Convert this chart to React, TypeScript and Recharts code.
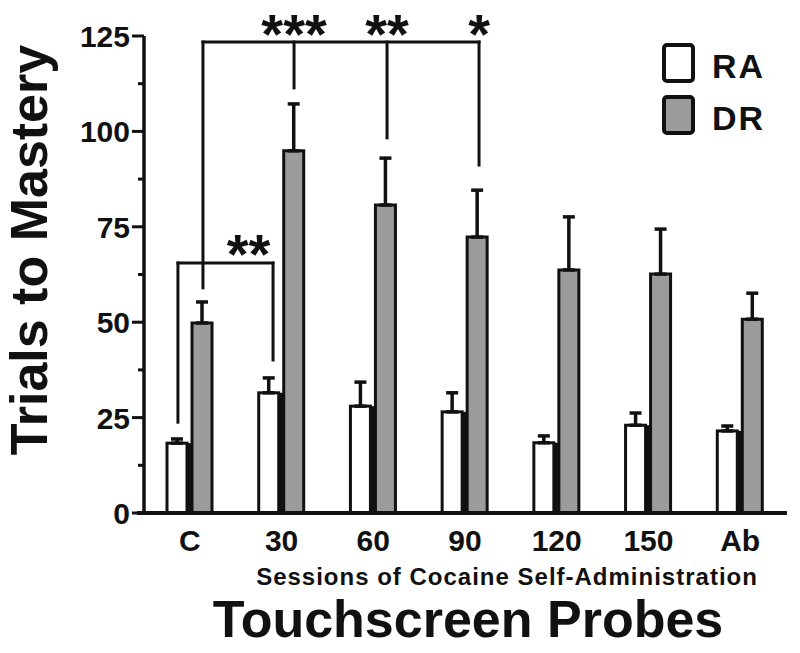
import { BarChart, Bar, XAxis, YAxis, ErrorBar, ReferenceLine, ReferenceDot, Legend } from 'recharts'

const categories = ['C', '30', '60', '90', '120', '150', 'Ab']
const raMean = [18.3, 31.5, 28, 26.5, 18.4, 23, 21.5]
const raSem = [1.1, 3.9, 6.3, 5, 1.8, 3.2, 1.3]
const drMean = [49.8, 94.9, 80.7, 72.3, 63.7, 62.6, 50.8]
const drSem = [5.5, 12.3, 12.3, 12.3, 13.9, 11.8, 6.8]
const yTicks = [0, 12.5, 25, 37.5, 50, 62.5, 75, 87.5, 100, 112.5, 125]
const legendOrder = ['RA', 'DR']

// significance brackets: [x1, y1, x2, y2], x in category index units, y in trials
const bracketLines: [number, number, number, number][] = [
  [0.143, 123.4, 3.153, 123.4],
  [0.143, 123.4, 0.143, 59.0],
  [1.136, 123.4, 1.136, 111.4],
  [2.15, 123.4, 2.15, 98.3],
  [3.153, 123.4, 3.153, 91.2],
  [-0.13, 65.5, 0.907, 65.5],
  [-0.13, 65.5, -0.13, 23.8],
  [0.907, 65.5, 0.907, 40.1],
]
const stars = [
  { x: 1.136, y: 120.6, text: '***' },
  { x: 2.15, y: 120.6, text: '**' },
  { x: 3.153, y: 120.6, text: '*' },
  { x: 0.64, y: 63, text: '**' },
]

const FONT = '"Liberation Sans", Arial, Helvetica, sans-serif'
const INK = '#111'
const GRAY = '#9b9b9b'
const BAR_GAP = 5
const fills: Record<string, string> = { RA: '#ffffff', DR: GRAY }

const data = categories.map((c, i) => ({
  name: c,
  idx: i,
  RA: raMean[i],
  raErr: [0, raSem[i]],
  DR: drMean[i],
  drErr: [0, drSem[i]],
}))

const RaShape = (props: any) => {
  const { x, y, width, height } = props
  return (
    <g>
      <rect x={x + width} y={y} width={BAR_GAP} height={height} fill={INK} />
      <rect x={x} y={y} width={width} height={height} fill="#fff" stroke={INK} strokeWidth={3} />
    </g>
  )
}

const YTick = ({ x, y, payload }: any) => {
  const major = payload.value % 25 === 0
  return (
    <g>
      <line x1={x - (major ? 12 : 6)} x2={x} y1={y} y2={y} stroke={INK} strokeWidth={3} />
      {major && (
        <text x={x - 14} y={y + 11} textAnchor="end" fontSize={30} fontWeight="bold" fill={INK} fontFamily={FONT}>
          {payload.value}
        </text>
      )}
    </g>
  )
}

const XTick = ({ x, y, payload }: any) => (
  <text x={x} y={y + 38} textAnchor="middle" fontSize={30} fontWeight="bold" fill={INK} fontFamily={FONT}>
    {payload.value}
  </text>
)

const LegendBox = ({ payload }: any) => {
  const items = [...(payload || [])].sort(
    (a: any, b: any) => legendOrder.indexOf(a.value) - legendOrder.indexOf(b.value)
  )
  return (
    <svg width={130} height={100}>
      {items.map((p: any, i: number) => (
        <g key={p.value} transform={`translate(0, ${i * 52})`}>
          <rect x={2} y={2} width={29} height={36} rx={3} fill={fills[p.value]} stroke={INK} strokeWidth={4} />
          <text x={50} y={35} fontSize={34} fontWeight="bold" letterSpacing={2} fill={INK} fontFamily={FONT}>
            {p.value}
          </text>
        </g>
      ))}
    </svg>
  )
}

export default function App() {
  return (
    <div style={{ position: 'absolute', left: 0, top: 0, background: '#fff' }}>
      <BarChart
        width={800}
        height={653}
        data={data}
        barSize={20}
        barGap={BAR_GAP}
        margin={{ top: 36, right: 14, bottom: 110, left: 64 }}
      >
        <XAxis
          dataKey="name"
          height={30}
          axisLine={false}
          tickLine={false}
          tickSize={0}
          tickMargin={0}
          tick={<XTick />}
          interval={0}
          label={() => (
            <g fontFamily={FONT} fontWeight="bold" fill={INK}>
              <text x={507} y={585} textAnchor="middle" fontSize={24} letterSpacing={1}>
                Sessions of Cocaine Self-Administration
              </text>
              <text x={468} y={637} textAnchor="middle" fontSize={52}>
                Touchscreen Probes
              </text>
            </g>
          )}
        />
        <XAxis xAxisId="n" dataKey="idx" type="number" domain={[-0.5, 6.5]} allowDataOverflow hide />
        <YAxis
          width={80}
          domain={[0, 125]}
          ticks={yTicks}
          interval={0}
          axisLine={{ stroke: INK, strokeWidth: 3.5 }}
          tickLine={false}
          tickSize={0}
          tickMargin={0}
          tick={<YTick />}
          label={() => (
            <text
              x={47}
              y={250}
              transform="rotate(-90, 47, 250)"
              textAnchor="middle"
              fontSize={52}
              fontWeight="bold"
              fill={INK}
              fontFamily={FONT}
            >
              Trials to Mastery
            </text>
          )}
        />
        <Legend
          layout="vertical"
          align="center"
          verticalAlign="middle"
          content={<LegendBox />}
          wrapperStyle={{ left: 662, top: 43, width: 130 }}
        />
        <Bar dataKey="RA" name="RA" fill="#fff" stroke={INK} strokeWidth={3} shape={<RaShape />} isAnimationActive={false}>
          <ErrorBar dataKey="raErr" direction="y" width={6} stroke={INK} strokeWidth={3.5} />
        </Bar>
        <Bar dataKey="DR" name="DR" fill={GRAY} stroke={INK} strokeWidth={3} isAnimationActive={false}>
          <ErrorBar dataKey="drErr" direction="y" width={6} stroke={INK} strokeWidth={3.5} />
        </Bar>
        <ReferenceLine
          xAxisId="n"
          segment={[{ x: -0.576, y: 0 }, { x: 6.51, y: 0 }]}
          stroke={INK}
          strokeWidth={4}
          ifOverflow="visible"
        />
        {bracketLines.map((b, i) => (
          <ReferenceLine
            key={`b${i}`}
            xAxisId="n"
            segment={[{ x: b[0], y: b[1] }, { x: b[2], y: b[3] }]}
            stroke={INK}
            strokeWidth={3}
            strokeLinecap="square"
            ifOverflow="visible"
          />
        ))}
        {stars.map((s, i) => (
          <ReferenceDot
            key={`s${i}`}
            xAxisId="n"
            x={s.x}
            y={s.y}
            r={0}
            ifOverflow="visible"
            shape={(p: any) => (
              <text x={p.cx} y={p.cy} textAnchor="middle" fontSize={56} fontWeight="bold" fill={INK} fontFamily={FONT}>
                {s.text}
              </text>
            )}
          />
        ))}
      </BarChart>
    </div>
  )
}
